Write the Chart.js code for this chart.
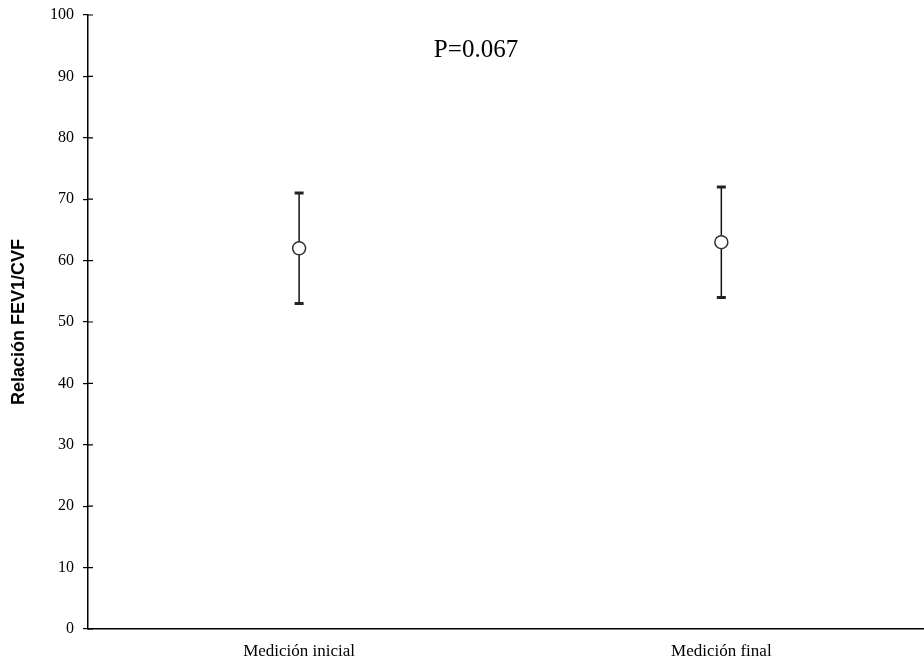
<!DOCTYPE html>
<html>
<head>
<meta charset="utf-8">
<script src="https://cdn.jsdelivr.net/npm/chart.js@4"></script>
<style>
  html, body { margin: 0; padding: 0; background: #fff; }
  canvas { display: block; }
</style>
</head>
<body>
<canvas id="fevChart" width="924" height="664"></canvas>
<script>
// Relación FEV1/CVF - medición inicial vs final (media con rango)
const categories = ["Medición inicial", "Medición final"];
const means = [62, 63];
const lowerValues = [53, 54];
const upperValues = [71, 72];
const yTickValues = [0, 10, 20, 30, 40, 50, 60, 70, 80, 90, 100];
const pValueText = "P=0.067";

// error bars + crossing tick marks + the P value label
const errorBarPlugin = {
  id: "errorBars",
  beforeDatasetsDraw(chart) {
    const ctx = chart.ctx;
    const xScale = chart.scales.x;
    const yScale = chart.scales.y;
    ctx.save();
    for (let i = 0; i < categories.length; i++) {
      const x = xScale.getPixelForValue(i);
      const yLow = yScale.getPixelForValue(lowerValues[i]);
      const yHigh = yScale.getPixelForValue(upperValues[i]);
      ctx.strokeStyle = "#111";
      ctx.lineWidth = 1.5;
      ctx.beginPath();
      ctx.moveTo(x, yLow);
      ctx.lineTo(x, yHigh);
      ctx.stroke();
      // caps
      ctx.strokeStyle = "#222";
      ctx.lineWidth = 3;
      ctx.beginPath();
      ctx.moveTo(x - 4.5, yLow);
      ctx.lineTo(x + 4.5, yLow);
      ctx.moveTo(x - 4.5, yHigh);
      ctx.lineTo(x + 4.5, yHigh);
      ctx.stroke();
    }
    ctx.restore();
  },
  afterDraw(chart) {
    const ctx = chart.ctx;
    const yScale = chart.scales.y;
    const area = chart.chartArea;
    ctx.save();
    // inner half of the y tick marks (they cross the axis line)
    ctx.strokeStyle = "#000";
    ctx.lineWidth = 1.2;
    ctx.beginPath();
    yTickValues.forEach((v) => {
      const y = yScale.getPixelForValue(v);
      ctx.moveTo(area.left, y);
      ctx.lineTo(area.left + 5, y);
    });
    ctx.stroke();
    // P value
    ctx.fillStyle = "#000";
    ctx.font = "25px 'Liberation Serif', 'Times New Roman', serif";
    ctx.textAlign = "center";
    ctx.textBaseline = "alphabetic";
    ctx.fillText(pValueText, 476, 57);
    ctx.restore();
  },
};

const ctx = document.getElementById("fevChart").getContext("2d");

const fevChart = new Chart(ctx, {
  type: "line",
  data: {
    datasets: [
      {
        label: "Relación FEV1/CVF",
        data: means.map((m, i) => ({ x: i, y: m })),
        showLine: false,
        pointRadius: 6.5,
        pointBackgroundColor: "#fff",
        pointBorderColor: "#333",
        pointBorderWidth: 1.5,
      },
    ],
  },
  options: {
    responsive: false,
    devicePixelRatio: 1,
    animation: false,
    layout: {
      autoPadding: false,
      padding: { top: 15, right: 0, left: 0, bottom: 0 },
    },
    plugins: {
      legend: { display: false },
      tooltip: { enabled: false },
    },
    scales: {
      x: {
        type: "linear",
        min: -0.5,
        max: 1.48,
        afterBuildTicks: (scale) => {
          scale.ticks = categories.map((c, i) => ({ value: i }));
        },
        afterFit: (scale) => {
          scale.height = 35;
          scale.paddingLeft = 0;
          scale.paddingRight = 0;
        },
        ticks: {
          color: "#000",
          padding: 12,
          maxRotation: 0,
          font: { family: "'Liberation Serif', 'Times New Roman', serif", size: 17 },
          callback: (value) => categories[value],
        },
        grid: { display: true, drawOnChartArea: false, drawTicks: false },
        border: { display: true, color: "#000", width: 1.5 },
      },
      y: {
        min: 0,
        max: 100,
        afterBuildTicks: (scale) => {
          scale.ticks = yTickValues.map((v) => ({ value: v }));
        },
        afterFit: (scale) => {
          scale.width = 88;
          scale.paddingTop = 0;
          scale.paddingBottom = 0;
        },
        ticks: {
          color: "#000",
          padding: 9,
          font: { family: "'Liberation Serif', 'Times New Roman', serif", size: 16 },
        },
        grid: {
          display: true,
          drawOnChartArea: false,
          drawTicks: true,
          tickLength: 5,
          color: "#000",
          lineWidth: 1.2,
        },
        border: { display: true, color: "#000", width: 1.5 },
        title: {
          display: true,
          text: "Relación FEV1/CVF",
          color: "#000",
          padding: { top: 8, bottom: 0 },
          font: { family: "'Liberation Sans', Arial, sans-serif", size: 18, weight: "bold" },
        },
      },
    },
  },
  plugins: [errorBarPlugin],
});
</script>
</body>
</html>
